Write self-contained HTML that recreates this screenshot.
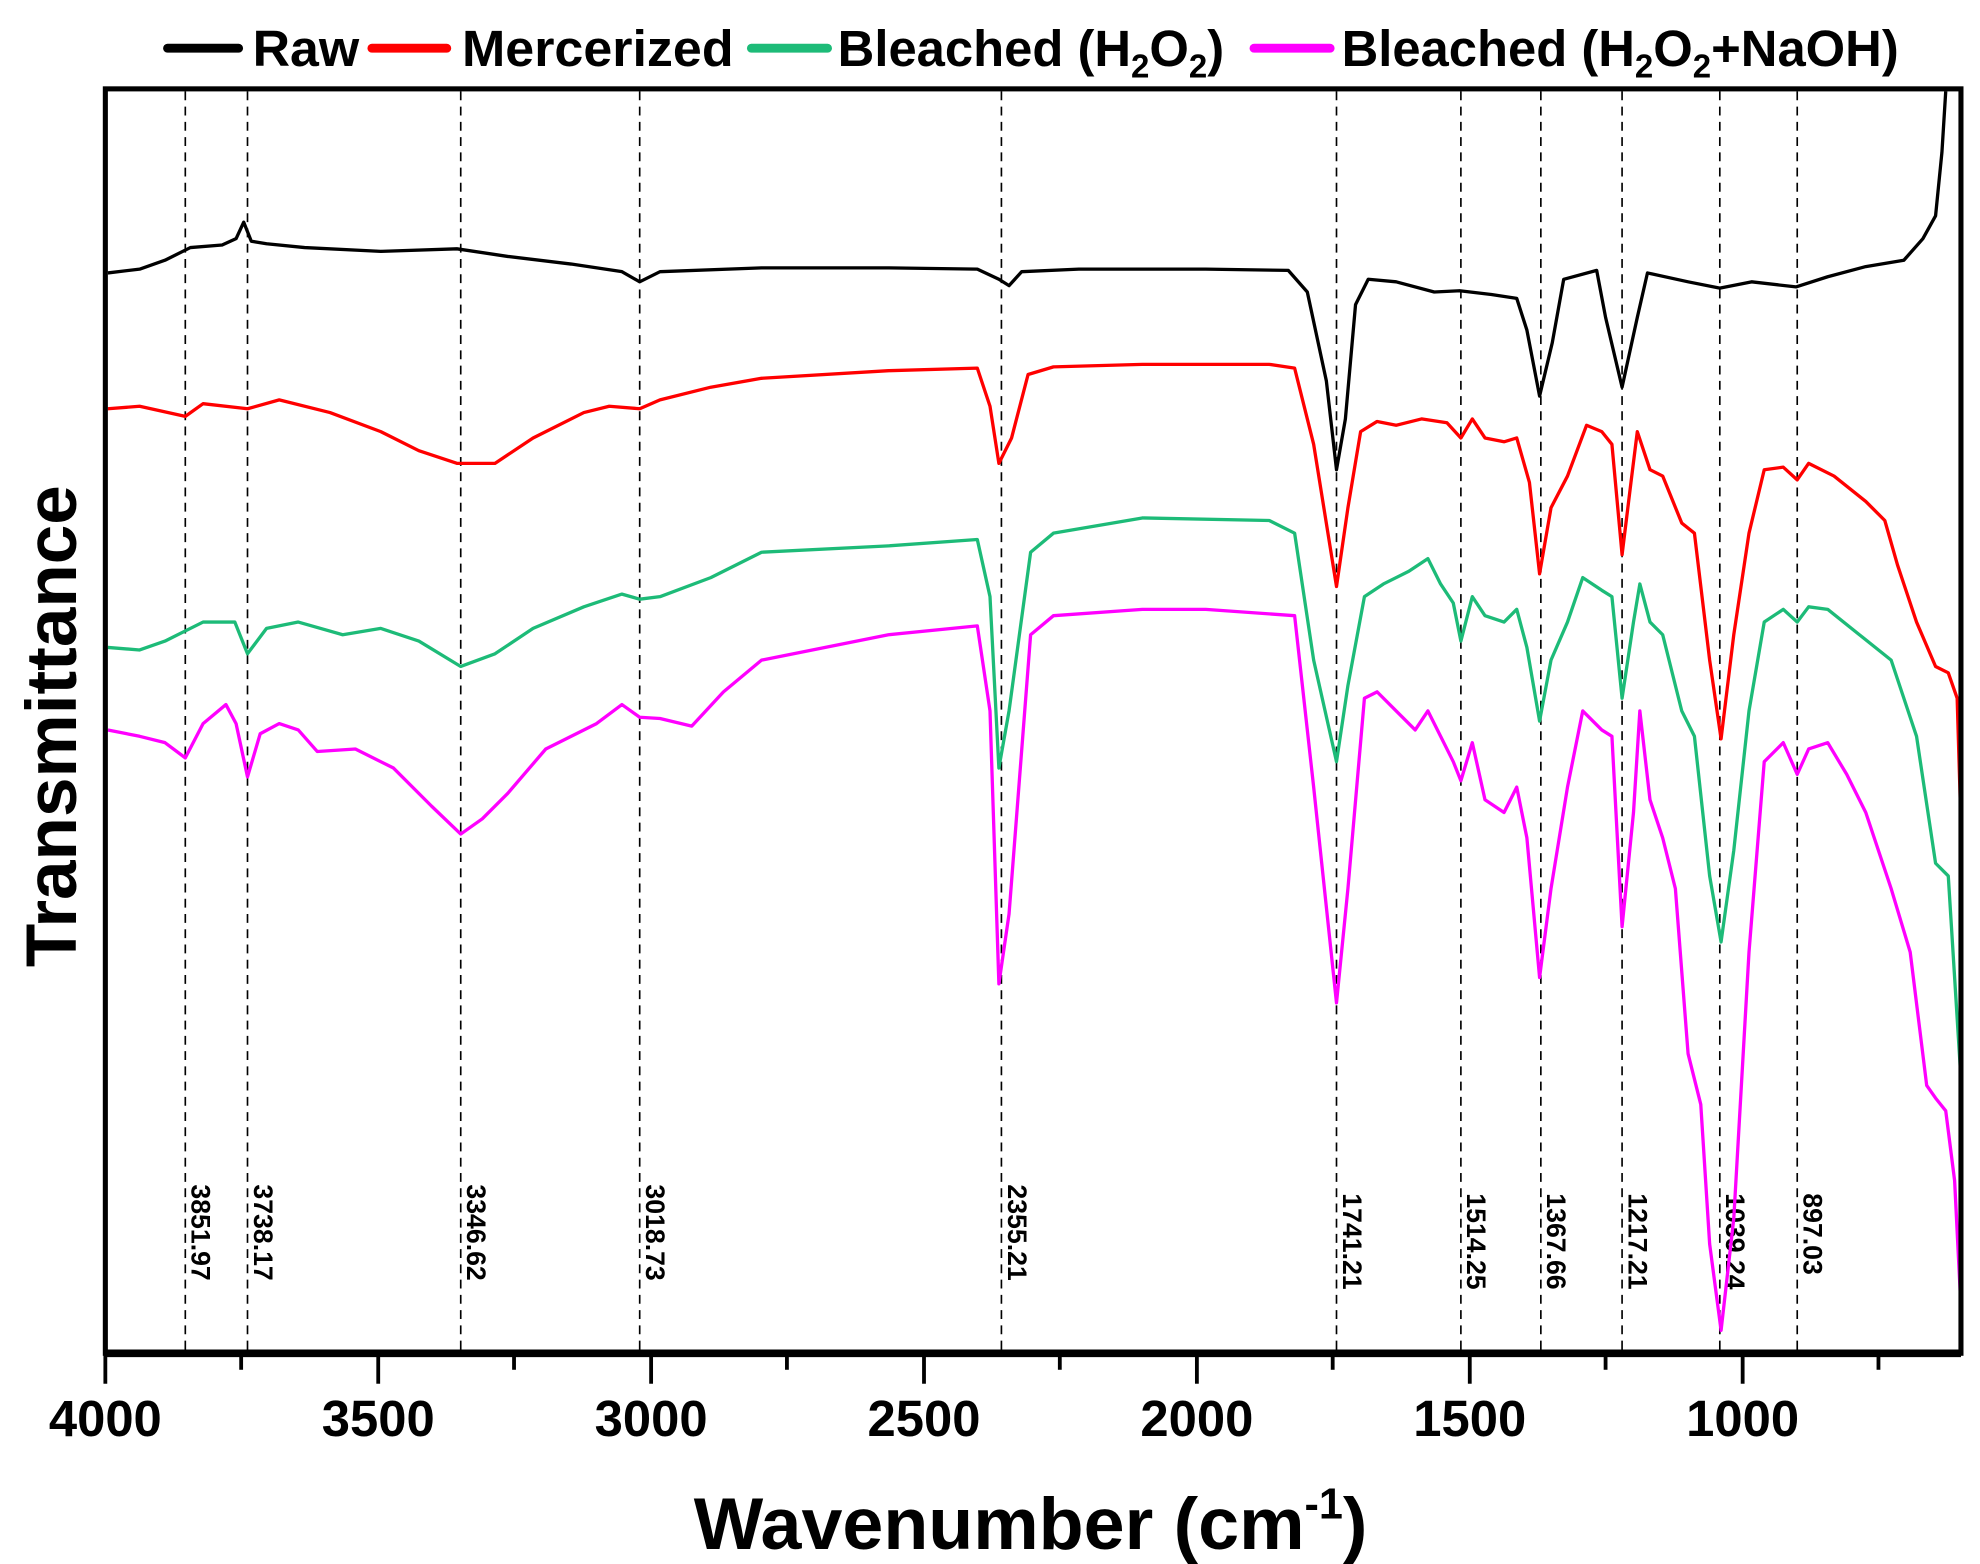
<!DOCTYPE html>
<html><head><meta charset="utf-8"><style>
html,body{margin:0;padding:0;background:#fff;}
svg{display:block;}
text{font-family:"Liberation Sans",Arial,sans-serif;font-weight:bold;}
</style></head><body>
<svg width="1980" height="1564" viewBox="0 0 1560 1232" preserveAspectRatio="none" xmlns="http://www.w3.org/2000/svg">
<rect width="1560" height="1232" fill="#fff"/>
<!-- legend -->
<g stroke-width="7" stroke-linecap="round">
<line x1="132" y1="38" x2="188" y2="38" stroke="#000"/>
<line x1="293" y1="38" x2="352" y2="38" stroke="#ff0000"/>
<line x1="592" y1="38" x2="652" y2="38" stroke="#1dbb78"/>
<line x1="988" y1="38" x2="1048" y2="38" stroke="#ff00ff"/>
</g>
<g font-size="40" fill="#000">
<text x="199" y="52" textLength="84" lengthAdjust="spacingAndGlyphs">Raw</text>
<text x="364" y="52" textLength="214" lengthAdjust="spacingAndGlyphs">Mercerized</text>
<text x="660" y="52">Bleached (H<tspan font-size="26" dy="9">2</tspan><tspan dy="-9">O</tspan><tspan font-size="26" dy="9">2</tspan><tspan dy="-9">)</tspan></text>
<text x="1057" y="52">Bleached (H<tspan font-size="26" dy="9">2</tspan><tspan dy="-9">O</tspan><tspan font-size="26" dy="9">2</tspan><tspan dy="-9">+NaOH)</tspan></text>
</g>
<!-- dashed lines -->
<g stroke="#000" stroke-width="1.3" stroke-dasharray="7,5">
<line x1="146" y1="72" x2="146" y2="1064"/>
<line x1="195" y1="72" x2="195" y2="1064"/>
<line x1="363" y1="72" x2="363" y2="1064"/>
<line x1="504" y1="72" x2="504" y2="1064"/>
<line x1="789" y1="72" x2="789" y2="1064"/>
<line x1="1053" y1="72" x2="1053" y2="1064"/>
<line x1="1151" y1="72" x2="1151" y2="1064"/>
<line x1="1214" y1="72" x2="1214" y2="1064"/>
<line x1="1278" y1="72" x2="1278" y2="1064"/>
<line x1="1355" y1="72" x2="1355" y2="1064"/>
<line x1="1416" y1="72" x2="1416" y2="1064"/>
</g>
<g font-size="21" fill="#000">
<text transform="translate(151,933) rotate(90)">3851.97</text>
<text transform="translate(200,933) rotate(90)">3738.17</text>
<text transform="translate(368,933) rotate(90)">3346.62</text>
<text transform="translate(509,933) rotate(90)">3018.73</text>
<text transform="translate(794,933) rotate(90)">2355.21</text>
<text transform="translate(1058,940) rotate(90)">1741.21</text>
<text transform="translate(1156,940) rotate(90)">1514.25</text>
<text transform="translate(1219,940) rotate(90)">1367.66</text>
<text transform="translate(1283,940) rotate(90)">1217.21</text>
<text transform="translate(1360,940) rotate(90)">1039.24</text>
<text transform="translate(1421,940) rotate(90)">897.03</text>
</g>
<!-- curves -->
<g fill="none" stroke-width="2.6" stroke-linejoin="round">
<polyline stroke="#000" points="85,215 110,212 130,205 150,195 175,193 186,188 192,175 198,190 210,192 240,195 300,198 360,196 400,202 450,208 490,214 504,222 520,214 600,211 700,211 770,212 787,220 795,225 805,214 850,212 950,212 1015,213 1030,230 1045,300 1053,370 1060,330 1068,240 1078,220 1100,222 1130,230 1150,229 1175,232 1195,235 1203,260 1213,312 1223,270 1232,220 1258,213 1265,250 1278,305 1290,250 1298,215 1330,222 1355,227 1380,222 1415,226 1440,218 1470,210 1500,205 1515,188 1525,170 1530,120 1533,72"/>
<polyline stroke="#ff0000" points="85,322 110,320 146,328 160,318 195,322 220,315 260,325 300,340 330,355 360,365 390,365 420,345 460,325 480,320 504,322 520,315 560,305 600,298 700,292 770,290 780,320 787,365 797,345 810,295 830,289 900,287 1000,287 1020,290 1035,350 1053,462 1062,400 1072,340 1085,332 1100,335 1120,330 1140,333 1151,345 1160,330 1170,345 1185,348 1195,345 1205,380 1213,452 1222,400 1235,375 1250,335 1262,340 1270,350 1278,437 1285,380 1290,340 1300,370 1310,375 1325,412 1335,420 1347,520 1356,582 1366,500 1378,420 1390,370 1405,368 1416,378 1425,365 1445,375 1470,395 1485,410 1495,445 1510,490 1525,525 1535,530 1542,550 1545,650"/>
<polyline stroke="#1dbb78" points="85,510 110,512 130,505 160,490 185,490 195,515 210,495 235,490 270,500 300,495 330,505 363,525 390,515 420,495 460,478 490,468 504,472 520,470 560,455 600,435 700,430 770,425 780,470 787,605 795,560 812,435 830,420 900,408 1000,410 1020,420 1035,520 1053,600 1062,540 1075,470 1090,460 1110,450 1125,440 1135,460 1145,475 1151,505 1160,470 1170,485 1185,490 1195,480 1203,510 1213,568 1222,520 1235,490 1247,455 1262,465 1270,470 1278,550 1287,490 1292,460 1300,490 1310,500 1325,560 1335,580 1347,690 1356,742 1366,670 1378,560 1390,490 1405,480 1416,490 1425,478 1440,480 1465,500 1490,520 1510,580 1525,680 1535,690 1545,850"/>
<polyline stroke="#ff00ff" points="85,575 110,580 130,585 146,597 160,570 178,555 186,570 195,612 205,578 220,570 235,575 250,592 280,590 310,605 340,635 363,657 380,645 400,625 430,590 470,570 490,555 504,565 520,566 545,572 570,545 600,520 700,500 770,493 780,560 787,775 795,720 812,500 830,485 900,480 950,480 1020,485 1035,620 1053,790 1062,700 1075,550 1085,545 1100,560 1115,575 1125,560 1135,580 1145,600 1151,615 1160,585 1170,630 1185,640 1195,620 1203,660 1213,770 1222,700 1235,620 1247,560 1262,575 1270,580 1278,730 1287,640 1292,560 1300,630 1310,660 1320,700 1330,830 1340,870 1347,980 1356,1048 1366,960 1378,750 1390,600 1405,585 1416,610 1425,590 1440,585 1455,610 1470,640 1490,700 1505,750 1518,855 1525,865 1533,875 1540,930 1545,1030"/>
</g>
<!-- frame -->
<rect x="83" y="70" width="1462" height="996" fill="none" stroke="#000" stroke-width="4"/>
<line x1="83" y1="1066" x2="1545" y2="1066" stroke="#000" stroke-width="6"/>
<!-- ticks -->
<g stroke="#000" stroke-width="3">
<line x1="83" y1="1066" x2="83" y2="1090"/>
<line x1="298" y1="1066" x2="298" y2="1090"/>
<line x1="513" y1="1066" x2="513" y2="1090"/>
<line x1="728" y1="1066" x2="728" y2="1090"/>
<line x1="943" y1="1066" x2="943" y2="1090"/>
<line x1="1158" y1="1066" x2="1158" y2="1090"/>
<line x1="1373" y1="1066" x2="1373" y2="1090"/>
<line x1="190" y1="1066" x2="190" y2="1079"/>
<line x1="405" y1="1066" x2="405" y2="1079"/>
<line x1="620" y1="1066" x2="620" y2="1079"/>
<line x1="835" y1="1066" x2="835" y2="1079"/>
<line x1="1050" y1="1066" x2="1050" y2="1079"/>
<line x1="1265" y1="1066" x2="1265" y2="1079"/>
<line x1="1480" y1="1066" x2="1480" y2="1079"/>
</g>
<g font-size="40" fill="#000" text-anchor="middle">
<text x="83" y="1131">4000</text>
<text x="298" y="1131">3500</text>
<text x="513" y="1131">3000</text>
<text x="728" y="1131">2500</text>
<text x="943" y="1131">2000</text>
<text x="1158" y="1131">1500</text>
<text x="1373" y="1131">1000</text>
</g>
<text x="812" y="1220" font-size="58" text-anchor="middle" fill="#000">Wavenumber (cm<tspan font-size="34" dy="-24">-1</tspan><tspan dy="24">)</tspan></text>
<text transform="translate(60,572) rotate(-90)" font-size="56" text-anchor="middle" fill="#000">Transmittance</text>
</svg>
</body></html>
